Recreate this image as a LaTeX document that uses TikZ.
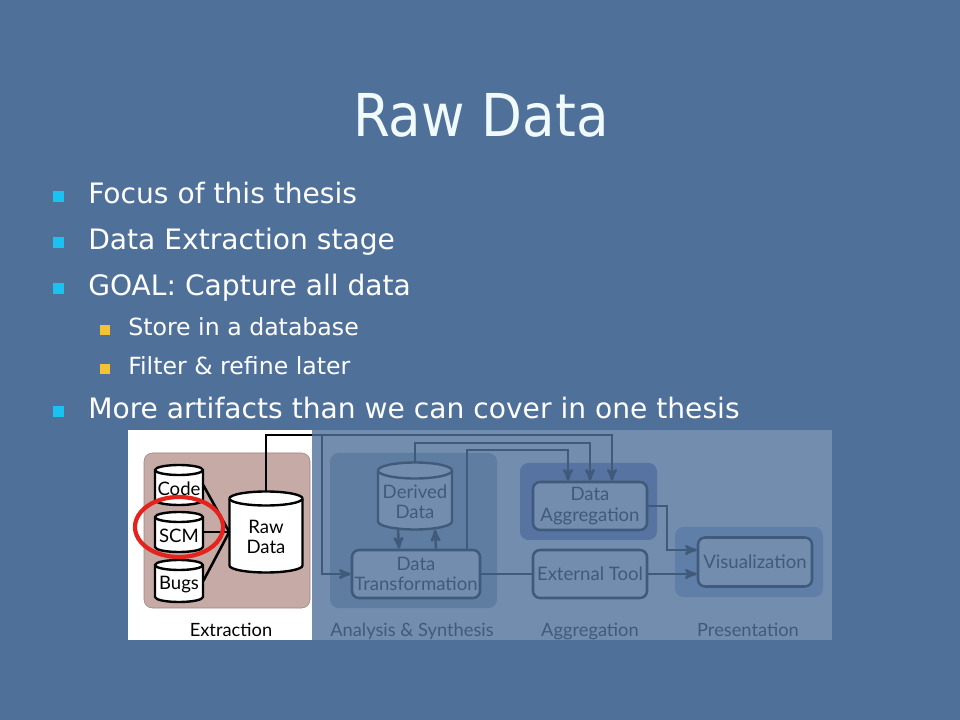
\documentclass[tikz,border=0pt]{standalone}
\usepackage{fontspec}
\setmainfont{DejaVu Sans}
\newfontfamily\titlefont{DejaVu Sans Condensed}
\newfontfamily\gill{Lato}
\usepackage{tikz}
\usetikzlibrary{positioning}
\usetikzlibrary{arrows}
\definecolor{slideblue}{HTML}{4F7199}
\definecolor{cyanbullet}{HTML}{1AC2F2}
\definecolor{yellowbullet}{HTML}{F4C232}
\definecolor{titlewhite}{HTML}{F0FAFC}
\definecolor{extrpink}{HTML}{C6AAA5}
\definecolor{extredge}{HTML}{9C8580}
\definecolor{analgrey}{HTML}{9BAEBE}
\definecolor{aggrblue}{HTML}{7A7EC2}
\definecolor{presblue}{HTML}{A8B8E6}
\definecolor{circlered}{HTML}{E3231C}
\newcommand\dbcyl[7]{% name, x, y, width, height, lid, text
\filldraw[dbline] ({#2-#4/2},{#3-#5/2+#6}) -- ({#2-#4/2},{#3+#5/2-#6})
  arc[start angle=180, end angle=360, x radius=#4*0.0125cm, y radius=#6*0.025cm]
  -- ({#2+#4/2},{#3-#5/2+#6})
  arc[start angle=0, end angle=180, x radius=#4*0.0125cm, y radius=#6*0.025cm] -- cycle;
\draw[dbline] ({#2-#4/2},{#3-#5/2+#6})
  arc[start angle=180, end angle=360, x radius=#4*0.0125cm, y radius=#6*0.025cm];
\node[inner sep=0pt, minimum width=#4*0.025cm, minimum height=#5*0.025cm] (#1) at (#2,#3) {};
\node[dbnode] (#1txt) at (#2,{#3+#6*0.7}) {#7};
}
\newcommand\topitem[3]{% name, baseline, text
\node[itemsq, fill=cyanbullet, minimum size=11*0.025cm] (#1sq) at (58,#2-7) {};
\node[itemtxt, font=\fontsize{20}{24}\selectfont] (#1) at (88,#2) {#3};
}
\newcommand\minoritem[3]{% name, baseline, text
\node[itemsq, fill=yellowbullet, minimum size=10*0.025cm] (#1sq) at (105,#2-6) {};
\node[itemtxt, font=\fontsize{16.8}{20}\selectfont] (#1) at (128,#2) {#3};
}

\begin{document}
\begin{tikzpicture}[x=0.025cm, y=-0.025cm, >=stealth',
    dbline/.style={draw=black, fill=white, line width=1.7pt},
    dbnode/.style={inner sep=0pt, align=center, font=\gill\fontsize{13.2}{14.5}\selectfont},
    procbox/.style={draw=black, fill=white, line width=1.8pt, rounded corners=5pt,
        align=center, inner sep=0pt, font=\gill\fontsize{13.2}{14.5}\selectfont},
    flow/.style={line width=1.8pt},
    stagelbl/.style={anchor=base, font=\gill\fontsize{13}{15}\selectfont},
    itemsq/.style={rectangle, inner sep=0pt},
    itemtxt/.style={anchor=base west, inner sep=0pt, text=white}]
	%% slide
	\useasboundingbox (0,0) rectangle (960,720);
	\fill[slideblue] (0,0) rectangle (960,720);

	\node[anchor=base, inner sep=0pt, text=titlewhite, font=\titlefont\fontsize{42}{48}\selectfont]
	  (title) at (481,137) {Raw Data};

	\topitem{focus}{204}{Focus of this thesis}
	\topitem{stage}{250}{Data Extraction stage}
	\topitem{goal}{296}{GOAL: Capture all data}
	\minoritem{store}{336}{Store in a database}
	\minoritem{filter}{375}{Filter \& refine later}
	\topitem{more}{419}{More artifacts than we can cover in one thesis}

	%% the figure
	\fill[white] (128,430) rectangle (832,640);

	% stage backgrounds
	\filldraw[fill=extrpink, draw=extredge, rounded corners=6pt] (144,453) rectangle (310,608);
	\fill[analgrey, rounded corners=6pt] (330,453) rectangle (497,608);
	\fill[aggrblue, rounded corners=6pt] (520,463) rectangle (657,540);
	\fill[presblue, rounded corners=6pt] (675,527) rectangle (823,597);

	% extraction
	\dbcyl{code}{179}{485}{48}{40}{5}{Code}
	\dbcyl{scm}{179}{532}{48}{40}{5}{SCM}
	\dbcyl{bugs}{179}{581}{48}{42}{5}{Bugs}
	\dbcyl{raw}{266}{532}{73}{81}{7}{Raw\\Data}

	\draw[flow] (code.east) -- (raw.west);
	\draw[flow] (scm.east) -- (raw.west);
	\draw[flow] (bugs.east) -- (raw.west);

	% analysis, aggregation, presentation
	\dbcyl{derived}{415}{496}{74}{67}{8}{Derived\\Data}
	\node[procbox, minimum width=128*0.025cm, minimum height=48*0.025cm] (trans) at (416,574) {Data\\Transformation};
	\node[procbox, minimum width=114*0.025cm, minimum height=48*0.025cm] (aggr) at (590,506) {Data\\Aggregation};
	\node[procbox, minimum width=114*0.025cm, minimum height=48*0.025cm] (ext) at (590,574) {External Tool};
	\node[procbox, minimum width=114*0.025cm, minimum height=49*0.025cm] (vis) at (755,562) {Visualization};

	\coordinate (railA) at (0,435);
	\coordinate (railB) at (0,443);
	\coordinate (railC) at (0,450);
	\coordinate (split) at (322,435);
	\coordinate (tout) at ([xshift=1.275cm]trans.north);
	\coordinate (bend) at (667,550);

	\draw[flow,->] (raw.north) -- (raw.north |- railA) -| ([xshift=0.55cm]aggr.north);
	\draw[flow,->] (split) |- (trans.west);
	\draw[flow,->] (derived.north) -- (derived.north |- railB) -| (aggr.north);
	\draw[flow,->] (tout) -- (tout |- railC) -| ([xshift=-0.55cm]aggr.north);
	\draw[flow,->] ([xshift=-0.425cm]derived.south) -- ([xshift=-0.425cm]trans.north);
	\draw[flow,->] ([xshift=0.5cm]trans.north) -- ([xshift=0.5cm]derived.south);
	\draw[flow] (trans.east) -- (ext.west);
	\draw[flow,->] (ext.east) -- (ext.east -| vis.west);
	\draw[flow,->] (aggr.east) -| (bend) -- (bend -| vis.west);

	% stage names
	\node[stagelbl] (lblextr) at (231,636) {Extraction};
	\node[stagelbl] (lblanal) at (412,636) {Analysis \& Synthesis};
	\node[stagelbl] (lblaggr) at (590,636) {Aggregation};
	\node[stagelbl] (lblpres) at (748,636) {Presentation};

	% tint over the later stages
	\fill[slideblue, opacity=0.8] (312,430) rectangle (832,640);

	% the circle round SCM
	\draw[circlered, line width=3pt] (179,527) ellipse [x radius=1.1cm, y radius=0.75cm];
\end{tikzpicture}
\end{document}
